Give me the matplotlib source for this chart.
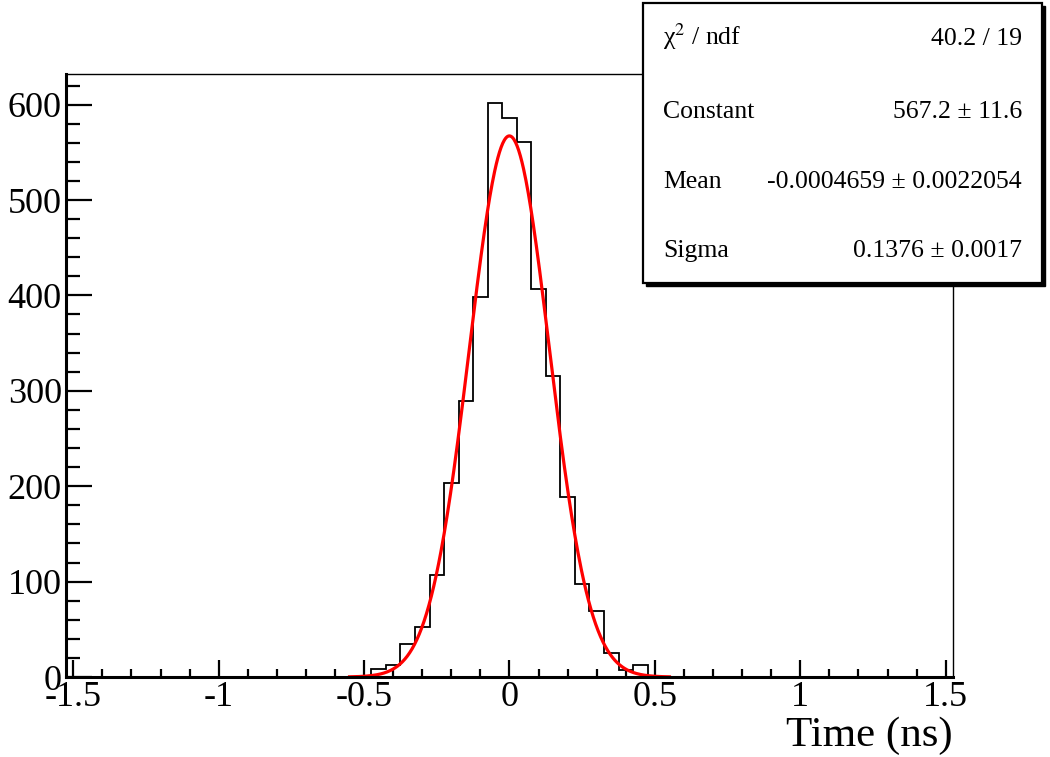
import numpy as np
import matplotlib
matplotlib.use("Agg")
import matplotlib.pyplot as plt
from matplotlib.ticker import MultipleLocator, FuncFormatter
from matplotlib.patches import Rectangle

plt.rcParams['font.family'] = ['Liberation Serif', 'DejaVu Serif']
plt.rcParams['mathtext.fontset'] = 'stix'

# histogram: bin width 0.05, range [-1.525, 1.525]
bin_lo, bin_hi, bin_w = -1.525, 1.525, 0.05
# non-empty bins, centres -0.45 ... 0.45
centres = [-0.45, -0.40, -0.35, -0.30, -0.25, -0.20, -0.15, -0.10, -0.05, 0.00,
           0.05, 0.10, 0.15, 0.20, 0.25, 0.30, 0.35, 0.40, 0.45]
counts = [8, 13, 35, 52, 107, 203, 289, 398, 602, 586,
          561, 407, 316, 189, 98, 69, 25, 7, 13]

# gaussian fit result
fit_const, fit_mean, fit_sigma = 567.2, -0.0004659, 0.1376
fit_range = (-0.55, 0.55)

stat_names = ["\u03c7$^{2}$ / ndf", "Constant", "Mean", "Sigma"]
stat_values = ["40.2 / 19", "567.2 \u00b1 11.6", "-0.0004659 \u00b1 0.0022054",
               "0.1376 \u00b1 0.0017"]

edges = np.linspace(bin_lo, bin_hi, int(round((bin_hi - bin_lo) / bin_w)) + 1)
full = np.zeros(len(edges) - 1)
for c, n in zip(centres, counts):
    full[np.argmin(np.abs((edges[:-1] + edges[1:]) / 2 - c))] = n

fig = plt.figure(figsize=(10.5, 7.57), dpi=100)
ax = fig.add_axes([66/1050, 1 - 677/757, (953 - 66)/1050, (677 - 74)/757])

ax.stairs(full, edges, color='black', lw=1.3, baseline=0)

xf = np.linspace(fit_range[0], fit_range[1], 400)
yf = fit_const * np.exp(-0.5 * ((xf - fit_mean) / fit_sigma) ** 2)
ax.plot(xf, yf, color='red', lw=2.3)

ax.set_xlim(bin_lo, bin_hi)
ax.set_ylim(0, max(counts) * 1.05)

ax.xaxis.set_major_locator(MultipleLocator(0.5))
ax.xaxis.set_minor_locator(MultipleLocator(0.1))
ax.yaxis.set_major_locator(MultipleLocator(100))
ax.yaxis.set_minor_locator(MultipleLocator(20))
fmt = FuncFormatter(lambda v, p: '%g' % v)
ax.xaxis.set_major_formatter(fmt)
ax.yaxis.set_major_formatter(fmt)

ax.tick_params(axis='x', which='major', direction='in', length=12, width=1.6,
               labelsize=26, pad=3)
ax.tick_params(axis='x', which='minor', direction='in', length=5.5, width=1.6)
ax.tick_params(axis='y', which='major', direction='in', length=19, width=1.6,
               labelsize=26, pad=3)
ax.tick_params(axis='y', which='minor', direction='in', length=10, width=1.6)

for s in ['left', 'bottom']:
    ax.spines[s].set_linewidth(2.2)
for s in ['top', 'right']:
    ax.spines[s].set_linewidth(1.0)

fig.text(953/1050, 1 - 746/757, "Time (ns)", fontsize=31, ha='right', va='baseline')

# stats box with shadow
bx0, bx1, by0, by1 = 643, 1042, 3, 283
fig.patches.append(Rectangle((bx0/1050 + 3/1050, 1 - by1/757 - 3/757),
                             (bx1 - bx0)/1050, (by1 - by0)/757,
                             transform=fig.transFigure, facecolor='black',
                             edgecolor='black', zorder=5))
fig.patches.append(Rectangle((bx0/1050, 1 - by1/757), (bx1 - bx0)/1050,
                             (by1 - by0)/757, transform=fig.transFigure,
                             facecolor='white', edgecolor='black', lw=1.6,
                             zorder=6))
baselines = [45, 118, 188, 257]
for name, val, yb in zip(stat_names, stat_values, baselines):
    fig.text(663/1050, 1 - yb/757, name, fontsize=18.5, va='baseline',
             ha='left', zorder=7)
    fig.text(1022/1050, 1 - yb/757, val, fontsize=18.5, va='baseline',
             ha='right', zorder=7)

fig.savefig("out.png", dpi=100)
